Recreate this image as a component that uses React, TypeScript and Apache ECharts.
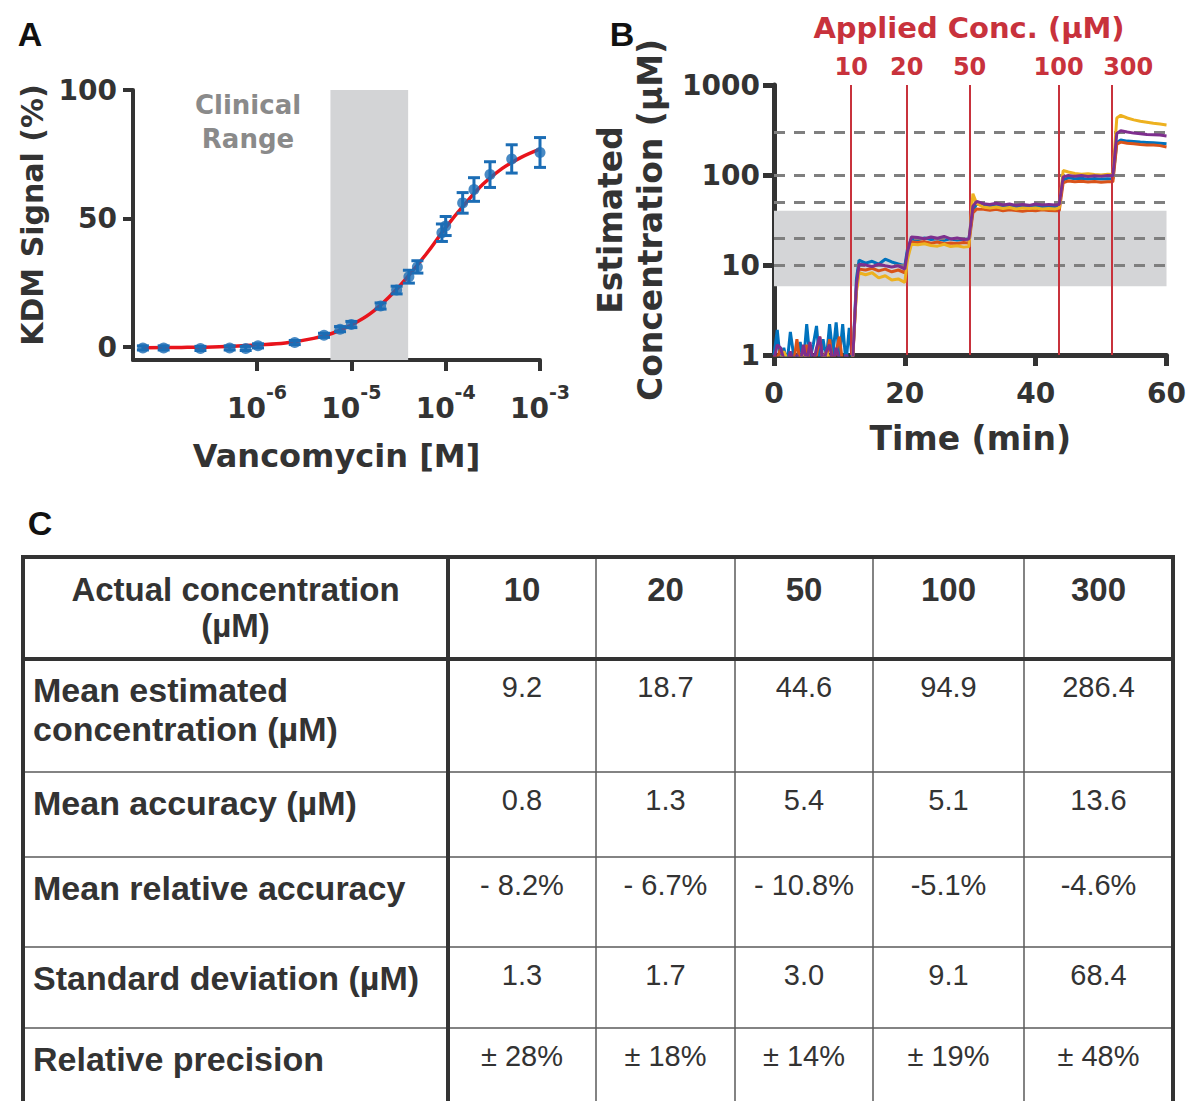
import React, { useEffect, useRef } from 'react';
import * as echarts from 'echarts';

// ---------- shared styling ----------
const PANEL_FONT = '"DejaVu Sans", sans-serif';
const TABLE_FONT = '"Liberation Sans", Arial, sans-serif';
const INK = '#333333';
const RED = '#c8323c';

// ---------- Panel A data (log10 of vancomycin concentration in M) ----------
const logConcM = [-7.21, -6.99, -6.6, -6.29, -6.12, -5.99, -5.6, -5.29, -5.12, -5.0, -4.69, -4.52, -4.39, -4.3, -4.04, -4.0, -3.82, -3.7, -3.53, -3.3, -3.0];
const kdmSignal = [-0.3, -0.3, -0.5, -0.3, -0.5, 0.5, 1.8, 4.6, 7.0, 8.8, 16.0, 22.2, 27.4, 31.2, 44.5, 47.1, 56.1, 61.3, 67.1, 73.2, 75.7];
const kdmError = [0.8, 0.8, 0.8, 0.8, 0.8, 0.8, 0.8, 0.8, 1.0, 1.2, 1.2, 1.5, 2.5, 2.4, 3.4, 3.7, 4.0, 4.6, 5.0, 5.5, 5.8];
const fitLogConc = [-7.2, -6.8, -6.4, -6.0, -5.7, -5.4, -5.2, -5.0, -4.8, -4.6, -4.4, -4.2, -4.0, -3.8, -3.6, -3.4, -3.2, -3.0];
const fitSignal = [-0.2, -0.1, 0.2, 0.9, 1.6, 3.4, 5.4, 8.6, 13.0, 19.5, 27.5, 36.5, 46.5, 55.5, 63.5, 69.5, 73.8, 77.0];
const clinicalRangeUM = [6, 40];
const decadeTicks = [-6, -5, -4, -3];
const signalTicks = [0, 50, 100];

// ---------- Panel B data ----------
const traceTimes = [
  0, 0.5, 1, 1.5, 2, 2.5, 3, 3.5, 4, 4.5, 5, 5.5, 6, 6.5, 7, 7.5, 8, 8.5, 9, 9.5, 10, 10.5, 11, 11.5, 12,
  12.6, 13,
  14, 15, 16, 17, 18, 19, 20,
  20.4, 21,
  22, 23, 24, 25, 26, 27, 28, 29,
  29.8, 30.4,
  31, 32, 33, 34, 35, 36, 37, 38, 39, 40, 41, 42, 43,
  43.6, 44.2,
  45, 46, 47, 48, 49, 50, 51,
  51.8, 52.4,
  53, 54, 55, 56, 57, 58, 59, 60,
];
const traceBlue = [
  1.0, 1.9, 0.8, 1.2, 0.8, 1.8, 1.0, 0.8, 1.4, 0.8, 2.2, 0.9, 1.3, 2.1, 0.8, 1.5, 0.9, 2.2, 1.0, 2.3, 0.9, 2.2, 0.8, 2.0, 0.8,
  7.0, 11.3,
  10.5, 11.0, 10.2, 11.6, 10.8, 10.3, 9.8,
  15, 19.5,
  19.0, 20.0, 19.2, 19.6, 18.8, 19.5, 19.0, 19.3,
  19.4, 40,
  48, 46, 45, 46.5, 45, 46, 44.5, 45.5, 44, 45, 44.5, 45, 44,
  45, 88,
  93, 91, 92, 90, 91.5, 90, 91,
  90, 230,
  245, 238, 235, 232, 230, 228, 225, 222,
];
const traceOrange = [
  1.0, 0.9, 1.2, 0.9, 0.8, 1.0, 0.8, 1.5, 0.8, 0.9, 1.3, 0.8, 0.9, 1.0, 1.6, 0.8, 0.9, 1.5, 0.8, 1.1, 1.6, 0.8, 0.9, 0.9, 0.8,
  5.5, 9.0,
  8.8, 9.2, 8.6, 9.0, 8.4, 8.8, 8.2,
  12.5, 18.0,
  17.8, 18.2, 17.5, 18.0, 17.2, 17.6, 17.3, 17.8,
  17.5, 38,
  42, 41.5, 40.5, 41.5, 40, 41, 40.2, 39.5, 40.5, 40, 41, 40.2, 40,
  40, 82,
  86, 84, 85, 83.5, 84.5, 83, 84,
  84, 220,
  232, 225, 222, 218, 216, 215, 212, 205,
];
const traceYellow = [
  0.9, 0.9, 0.9, 1.1, 0.9, 0.9, 0.9, 0.9, 0.9, 1.1, 0.9, 0.9, 0.9, 0.9, 0.9, 0.9, 1.1, 0.9, 0.9, 0.9, 0.9, 0.9, 0.9, 0.9, 0.9,
  5.0, 8.2,
  7.8, 8.2, 7.2, 7.6, 6.8, 7.0, 6.4,
  11.5, 17.0,
  16.8, 17.2, 16.5, 16.2, 17.0, 16.0, 16.4, 15.8,
  16.0, 62,
  48, 44, 43, 44, 42.5, 43.5, 42, 43, 42.5, 43, 42, 42.5, 42,
  43, 112,
  108, 104, 102, 103, 101, 100, 102,
  101, 430,
  460, 430, 410, 395, 385, 375, 368, 360,
];
const tracePurple = [
  0.9, 1.3, 1.2, 0.9, 0.8, 1.1, 0.8, 1.0, 0.8, 1.3, 0.8, 1.4, 0.8, 1.2, 1.6, 0.8, 1.1, 1.3, 0.8, 1.2, 0.9, 0.8, 1.0, 0.9, 0.8,
  6.0, 10.2,
  10.0, 9.6, 10.2, 9.8, 9.5, 9.8, 9.0,
  14.0, 20.5,
  20.2, 19.6, 20.5, 19.8, 20.8, 19.5, 20.0, 19.2,
  19.5, 45,
  51, 48, 47, 48.5, 46.5, 47.5, 46, 47, 46, 47.5, 46.5, 47, 46.5,
  47, 95,
  99, 97, 98.5, 96, 98, 97, 99,
  98, 290,
  310, 300, 292, 288, 282, 280, 278, 272,
];
const traceColors = ['#0072BD', '#D95319', '#EDB120', '#7E2F8E'];
const appliedTimes = [11.8, 20.3, 29.9, 43.5, 51.7];
const appliedConc = [10, 20, 50, 100, 300];

// ---------- Panel C table ----------
const tableHeader = ['Actual concentration', '(µM)'];
const tableColumns = ['10', '20', '50', '100', '300'];
const tableRowLabels = [
  ['Mean estimated', 'concentration (µM)'],
  ['Mean accuracy (µM)'],
  ['Mean relative accuracy'],
  ['Standard deviation (µM)'],
  ['Relative precision'],
];
const meanEstimated = ['9.2', '18.7', '44.6', '94.9', '286.4'];
const meanAccuracy = ['0.8', '1.3', '5.4', '5.1', '13.6'];
const meanRelativeAccuracy = ['- 8.2%', '- 6.7%', '- 10.8%', '-5.1%', '-4.6%'];
const standardDeviation = ['1.3', '1.7', '3.0', '9.1', '68.4'];
const relativePrecision = ['± 28%', '± 18%', '± 14%', '± 19%', '± 48%'];

// table layout (pixels)
const colEdges = [23, 448, 596, 735, 873, 1024, 1173];
const rowEdges = [557, 659, 772, 857, 947, 1028, 1130];

function buildTable(): any[] {
  const els: any[] = [];
  const left = colEdges[0];
  const right = colEdges[colEdges.length - 1];
  const top = rowEdges[0];
  const bottom = rowEdges[rowEdges.length - 1];
  const thin = { stroke: '#5a5a5a', lineWidth: 1.5 };
  const thick = { stroke: INK, lineWidth: 4 };
  for (let i = 2; i < colEdges.length - 1; i++) {
    els.push({ type: 'line', shape: { x1: colEdges[i], y1: top, x2: colEdges[i], y2: bottom }, style: thin, z: 10 });
  }
  for (let j = 2; j < rowEdges.length - 1; j++) {
    els.push({ type: 'line', shape: { x1: left, y1: rowEdges[j], x2: right, y2: rowEdges[j] }, style: thin, z: 10 });
  }
  els.push({ type: 'line', shape: { x1: left, y1: rowEdges[1], x2: right, y2: rowEdges[1] }, style: thick, z: 11 });
  els.push({ type: 'line', shape: { x1: colEdges[1], y1: top, x2: colEdges[1], y2: bottom }, style: thick, z: 11 });
  els.push({
    type: 'rect', shape: { x: left, y: top, width: right - left, height: bottom - top },
    style: { fill: 'rgba(0,0,0,0)', stroke: INK, lineWidth: 4 }, z: 12,
  });

  const boldStyle = (text: string, align: string, size = 34) => ({
    text, fill: INK, fontFamily: TABLE_FONT, fontWeight: 'bold', fontSize: size, align, verticalAlign: 'middle',
  });
  const valStyle = (text: string) => ({
    text, fill: INK, fontFamily: TABLE_FONT, fontWeight: 'normal', fontSize: 29, align: 'center', verticalAlign: 'middle',
  });
  const c0 = (colEdges[0] + colEdges[1]) / 2;
  els.push({ type: 'text', x: c0, y: 589, style: boldStyle(tableHeader[0], 'center', 33), z: 13 });
  els.push({ type: 'text', x: c0, y: 625, style: boldStyle(tableHeader[1], 'center', 33), z: 13 });
  tableColumns.forEach((c, i) => {
    const cx = (colEdges[i + 1] + colEdges[i + 2]) / 2;
    els.push({ type: 'text', x: cx, y: 589, style: boldStyle(c, 'center', 33), z: 13 });
  });
  const rows = [meanEstimated, meanAccuracy, meanRelativeAccuracy, standardDeviation, relativePrecision];
  rows.forEach((vals, r) => {
    const rt = rowEdges[r + 1];
    tableRowLabels[r].forEach((lab, k) => {
      els.push({ type: 'text', x: 33, y: rt + 31 + k * 39, style: boldStyle(lab, 'left'), z: 13 });
    });
    vals.forEach((v, i) => {
      const cx = (colEdges[i + 1] + colEdges[i + 2]) / 2;
      els.push({ type: 'text', x: cx, y: rt + 28, style: valStyle(v), z: 13 });
    });
  });
  return els;
}

const panelText = (size: number, color = INK) => ({
  fontFamily: PANEL_FONT, fontWeight: 'bold' as const, fontSize: size, color,
});

export default function App() {
  const ref = useRef<HTMLDivElement>(null);
  useEffect(() => {
    if (!ref.current) return;
    const chart = echarts.init(ref.current, null, { renderer: 'svg' });

    const bandA = clinicalRangeUM.map((v) => Math.log10(v * 1e-6));
    const traces = [traceBlue, traceOrange, traceYellow, tracePurple];

    const option: any = {
      animation: false,
      backgroundColor: '#ffffff',
      grid: [
        { left: 133, top: 90, width: 407, height: 270 },
        { left: 774, top: 85, width: 393, height: 270 },
      ],
      xAxis: [
        {
          type: 'value', gridIndex: 0, min: -7.315, max: -3,
          axisLine: { onZero: false, lineStyle: { color: INK, width: 4 } },
          axisTick: { show: true, customValues: decadeTicks, length: 11, lineStyle: { color: INK, width: 4 } },
          axisLabel: {
            customValues: decadeTicks, margin: 22,
            formatter: (v: number) => `{b|10}{s|${Math.round(v)}}`,
            rich: {
              b: { ...panelText(28), lineHeight: 40, verticalAlign: 'bottom' },
              s: { ...panelText(19), lineHeight: 20, verticalAlign: 'top' },
            },
          },
          splitLine: { show: false },
          name: 'Vancomycin [M]', nameLocation: 'middle', nameGap: 80,
          nameTextStyle: { ...panelText(32) },
        },
        {
          type: 'value', gridIndex: 1, min: 0, max: 60, interval: 20,
          axisLine: { onZero: false, lineStyle: { color: INK, width: 5 } },
          axisTick: { show: true, length: 11, lineStyle: { color: INK, width: 5 } },
          axisLabel: { ...panelText(28), margin: 24 },
          splitLine: { show: false },
          name: 'Time (min)', nameLocation: 'middle', nameGap: 67,
          nameTextStyle: { ...panelText(33) },
        },
      ],
      yAxis: [
        {
          type: 'value', gridIndex: 0, min: -5, max: 100,
          axisLine: { show: true, onZero: false, lineStyle: { color: INK, width: 4 } },
          axisTick: { show: true, customValues: signalTicks, length: 10, lineStyle: { color: INK, width: 4 } },
          axisLabel: { customValues: signalTicks, ...panelText(28), margin: 16 },
          splitLine: { show: false },
          name: 'KDM Signal (%)', nameLocation: 'middle', nameGap: 83,
          nameTextStyle: { ...panelText(30), lineHeight: 36, padding: [0, 0, 0, 20] },
        },
        {
          type: 'log', logBase: 10, gridIndex: 1, min: 1, max: 1000,
          axisLine: { show: true, onZero: false, lineStyle: { color: INK, width: 5 } },
          axisTick: { show: true, length: 11, lineStyle: { color: INK, width: 5 } },
          minorTick: { show: false },
          axisLabel: { ...panelText(28), margin: 14, formatter: (v: number) => String(Math.round(v)) },
          splitLine: { show: false },
          name: 'Estimated\nConcentration (µM)', nameLocation: 'middle', nameGap: 104,
          nameTextStyle: { ...panelText(33), lineHeight: 40 },
        },
      ],
      series: [
        // Panel A: clinical range band
        {
          type: 'line', xAxisIndex: 0, yAxisIndex: 0, data: [], z: 1, silent: true,
          markArea: {
            silent: true, itemStyle: { color: '#d3d4d6' },
            data: [[{ xAxis: bandA[0] }, { xAxis: bandA[1] }]],
          },
        },
        // Panel A: fit curve
        {
          type: 'line', xAxisIndex: 0, yAxisIndex: 0, z: 3, smooth: 0.4, showSymbol: false, silent: true,
          lineStyle: { color: '#e8141c', width: 3.5 },
          data: fitLogConc.map((x, i) => [x, fitSignal[i]]),
        },
        // Panel A: error bars
        {
          type: 'custom', xAxisIndex: 0, yAxisIndex: 0, z: 4, silent: true,
          data: logConcM.map((x, i) => [x, kdmSignal[i] - kdmError[i], kdmSignal[i] + kdmError[i]]),
          renderItem: (params: any, api: any) => {
            const x = api.value(0);
            const lo = api.coord([x, api.value(1)]);
            const hi = api.coord([x, api.value(2)]);
            const w = 6;
            const st = { stroke: '#1b6db5', lineWidth: 3 };
            return {
              type: 'group',
              children: [
                { type: 'line', shape: { x1: hi[0], y1: hi[1], x2: lo[0], y2: lo[1] }, style: st },
                { type: 'line', shape: { x1: hi[0] - w, y1: hi[1], x2: hi[0] + w, y2: hi[1] }, style: st },
                { type: 'line', shape: { x1: lo[0] - w, y1: lo[1], x2: lo[0] + w, y2: lo[1] }, style: st },
              ],
            };
          },
        },
        // Panel A: points
        {
          type: 'scatter', xAxisIndex: 0, yAxisIndex: 0, z: 5, symbolSize: 11, silent: true,
          itemStyle: { color: '#1b6db5' },
          data: logConcM.map((x, i) => [x, kdmSignal[i]]),
        },
        // Panel B: clinical band + dashed reference lines
        {
          type: 'line', xAxisIndex: 1, yAxisIndex: 1, data: [], z: 1, silent: true,
          markArea: {
            silent: true, itemStyle: { color: '#d4d5d7' },
            data: [[{ yAxis: 5.8 }, { yAxis: clinicalRangeUM[1] }]],
          },
          markLine: {
            silent: true, symbol: ['none', 'none'], label: { show: false },
            lineStyle: { color: '#7f7f7f', type: [11, 9], width: 3 },
            data: appliedConc.map((c) => ({ yAxis: c })),
          },
        },
        // Panel B: applied-concentration markers
        {
          type: 'line', xAxisIndex: 1, yAxisIndex: 1, data: [], z: 2, silent: true,
          markLine: {
            silent: true, symbol: ['none', 'none'],
            lineStyle: { color: RED, type: 'solid', width: 2 },
            label: { show: true, position: 'end', distance: 6, ...panelText(24, RED) },
            data: appliedTimes.map((t, i) => ({
              xAxis: t,
              label: { formatter: String(appliedConc[i]), offset: i === appliedTimes.length - 1 ? [16, 0] : [0, 0] },
            })),
          },
        },
        // Panel B: traces
        ...traces.map((vals, k) => ({
          type: 'line', xAxisIndex: 1, yAxisIndex: 1, z: 3 + k, showSymbol: false, silent: true,
          lineStyle: { color: traceColors[k], width: 3 },
          itemStyle: { color: traceColors[k] },
          data: traceTimes.map((t, i) => [t, vals[i]]),
        })),
      ],
      graphic: [
        { type: 'text', x: 30, y: 34, style: { text: 'A', fill: '#111', fontFamily: TABLE_FONT, fontWeight: 'bold', fontSize: 34, align: 'center', verticalAlign: 'middle' } },
        { type: 'text', x: 622, y: 34, style: { text: 'B', fill: '#111', fontFamily: TABLE_FONT, fontWeight: 'bold', fontSize: 34, align: 'center', verticalAlign: 'middle' } },
        { type: 'text', x: 40, y: 523, style: { text: 'C', fill: '#111', fontFamily: TABLE_FONT, fontWeight: 'bold', fontSize: 34, align: 'center', verticalAlign: 'middle' } },
        { type: 'text', x: 969, y: 28, style: { text: 'Applied Conc. (µM)', fill: RED, fontFamily: PANEL_FONT, fontWeight: 'bold', fontSize: 29, align: 'center', verticalAlign: 'middle' } },
        { type: 'text', x: 248, y: 105, style: { text: 'Clinical', fill: '#8a8a8a', fontFamily: PANEL_FONT, fontWeight: 'bold', fontSize: 26, align: 'center', verticalAlign: 'middle' } },
        { type: 'text', x: 248, y: 139, style: { text: 'Range', fill: '#8a8a8a', fontFamily: PANEL_FONT, fontWeight: 'bold', fontSize: 26, align: 'center', verticalAlign: 'middle' } },
        ...buildTable(),
      ],
    };
    chart.setOption(option);
    return () => chart.dispose();
  }, []);

  return (
    <div
      ref={ref}
      style={{ position: 'absolute', left: 0, top: 0, width: 1189, height: 1101, background: '#fff' }}
    />
  );
}
